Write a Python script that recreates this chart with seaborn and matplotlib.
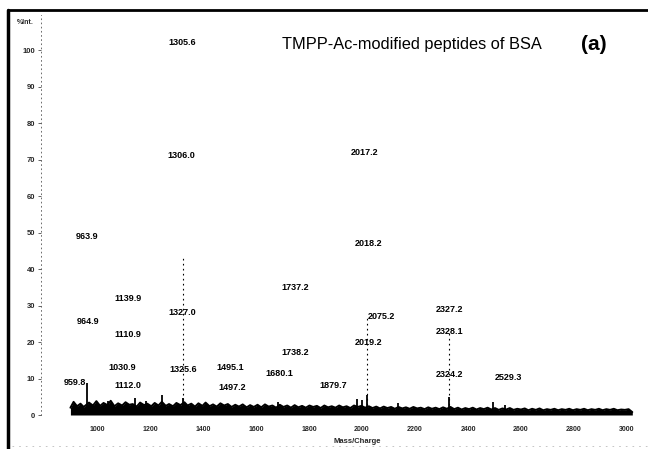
import matplotlib
matplotlib.use("Agg")
import matplotlib.pyplot as plt
import seaborn as sns
import pandas as pd
from matplotlib.lines import Line2D

# ---------------- data ----------------
noise_mz = [900, 912, 925, 938, 950, 970, 985, 998, 1012, 1025, 1040, 1052, 1066, 1080, 1095,
            1108, 1122, 1135, 1150, 1163, 1178, 1190, 1205, 1218, 1232, 1245, 1260, 1272, 1287,
            1300, 1315, 1330, 1342, 1356, 1370, 1383, 1398, 1410, 1425, 1438, 1452, 1466, 1480,
            1494, 1508, 1522, 1536, 1550, 1565, 1578, 1592, 1606, 1620, 1634, 1648, 1662, 1676,
            1690, 1704, 1718, 1732, 1746, 1760, 1774, 1788, 1802, 1816, 1830, 1844, 1858, 1872,
            1886, 1900, 1914, 1928, 1942, 1956, 1970, 1984, 1998, 2012, 2026, 2040, 2054, 2068,
            2082, 2096, 2110, 2124, 2138, 2152, 2166, 2180, 2194, 2208, 2222, 2236, 2250, 2264,
            2278, 2292, 2306, 2320, 2334, 2348, 2362, 2376, 2390, 2404, 2418, 2432, 2446, 2460,
            2474, 2488, 2502, 2516, 2530, 2544, 2558, 2572, 2586, 2600, 2614, 2628, 2642, 2656,
            2670, 2684, 2698, 2712, 2726, 2740, 2754, 2768, 2782, 2796, 2810, 2824, 2838, 2852,
            2866, 2880, 2894, 2908, 2922, 2936, 2950, 2964, 2978, 2992, 3006, 3020]
noise_int = [2.0, 3.6, 2.4, 3.1, 2.2, 3.4, 2.6, 3.8, 2.5, 3.3, 2.7, 3.9, 2.4, 3.2, 2.6,
             3.5, 2.8, 3.0, 2.3, 3.4, 2.7, 3.1, 2.4, 3.3, 2.6, 3.6, 2.5, 3.0, 2.4,
             3.3, 2.7, 3.5, 2.6, 3.1, 2.3, 3.2, 2.5, 3.4, 2.4, 2.9, 2.3, 3.2, 2.6,
             3.0, 2.2, 2.8, 2.3, 2.9, 2.1, 2.7, 2.2, 2.8, 2.1, 2.9, 2.3, 2.6, 2.0,
             2.8, 2.2, 2.6, 2.0, 2.7, 2.1, 2.5, 2.0, 2.6, 2.2, 2.5, 1.9, 2.6, 2.1,
             2.4, 2.0, 2.6, 2.1, 2.4, 1.9, 2.6, 2.2, 2.5, 2.0, 2.4, 1.9, 2.3, 1.8,
             2.3, 1.9, 2.2, 1.7, 2.2, 1.8, 2.1, 1.7, 2.2, 1.8, 2.0, 1.6, 2.1, 1.7,
             2.0, 1.6, 2.1, 1.7, 2.2, 1.6, 2.0, 1.5, 1.9, 1.6, 2.0, 1.5, 1.9, 1.6,
             2.0, 1.5, 1.9, 1.4, 1.8, 1.5, 1.9, 1.4, 1.7, 1.5, 1.8, 1.3, 1.7, 1.4,
             1.8, 1.3, 1.6, 1.4, 1.7, 1.3, 1.6, 1.4, 1.7, 1.3, 1.6, 1.4, 1.7, 1.3,
             1.6, 1.4, 1.7, 1.3, 1.6, 1.4, 1.7, 1.3, 1.5, 1.4, 1.6, 0.8]

peak_mz = [962, 1042, 1143, 1185, 1245, 1325, 1683, 1981, 2000, 2019, 2136, 2328, 2494, 2540]
peak_int = [8.8, 3.8, 4.7, 3.8, 5.5, 4.6, 3.6, 4.3, 4.0, 5.5, 3.3, 5.0, 3.5, 2.8]

faded_mz = [1325, 2019, 2328]
faded_int = [43, 27, 23]

label_text = ["1305.6", "1306.0", "2017.2", "963.9", "2018.2", "1737.2", "1139.9", "1327.0",
              "2075.2", "2327.2", "964.9", "2328.1", "1110.9", "2019.2", "1738.2", "1030.9",
              "1325.6", "1495.1", "1680.1", "2324.2", "2529.3", "959.8", "1112.0", "1879.7",
              "1497.2"]
label_mz = [1321, 1317, 2011, 962, 2023, 1747, 1117, 1321, 2075, 2332, 966, 2332, 1117, 2023,
            1747, 1094, 1325, 1502, 1690, 2332, 2551, 917, 1117, 1890, 1509]
label_int = [102, 71, 72, 49, 47, 35, 32, 28, 27, 29, 25.5, 23, 22, 20, 17, 13, 12.6, 13,
             11.5, 11, 10.4, 8.8, 8.0, 8.2, 7.4]

y_ticks = [0, 10, 20, 30, 40, 50, 60, 70, 80, 90, 100]
x_ticks = [1000, 1200, 1400, 1600, 1800, 2000, 2200, 2400, 2600, 2800, 3000]

title_text = "TMPP-Ac-modified peptides of BSA"
panel_text = "(a)"

# ---------------- plot ----------------
sns.set_theme(style="white")
plt.rcParams["font.family"] = ["Liberation Sans", "DejaVu Sans"]

W, H = 648, 449
fig = plt.figure(figsize=(W / 100, H / 100), dpi=100)
ax = fig.add_axes([41 / W, 34 / H, 599 / W, 400 / H])

noise = pd.DataFrame({"mz": noise_mz, "int": noise_int})
ax.fill_between(noise["mz"], 0, noise["int"], color="black", linewidth=0)
sns.lineplot(data=noise, x="mz", y="int", ax=ax, color="black", linewidth=1.4)

ax.vlines(peak_mz, 0, peak_int, color="black", linewidth=1.3)
ax.vlines(faded_mz, 0, faded_int, color="black", linewidth=0.8, linestyles=(0, (1.5, 3)))

for t, x, y in zip(label_text, label_mz, label_int):
    ax.text(x, y, t, ha="center", va="center", fontsize=6.5, color="black",
            fontweight="bold")

ax.set_xlim(789, 3049)
ax.set_ylim(0, 109.6)
ax.set_xticks(x_ticks)
ax.set_xticklabels([str(v) for v in x_ticks], fontsize=5, fontweight="bold")
ax.set_yticks(y_ticks)
ax.set_yticklabels([str(v) for v in y_ticks], fontsize=5.5, fontweight="bold")
ax.tick_params(axis="x", length=0, pad=8)
ax.tick_params(axis="y", length=2, width=0.5, pad=2, direction="out", left=True)
ax.set_xlabel("Mass/Charge", fontsize=5.5, fontweight="bold")
ax.xaxis.set_label_coords((357 - 41) / 599, -0.058)
ax.set_ylabel("")
ax.text(-0.012, (415 - 22) / 400, "%Int.", transform=ax.transAxes, ha="right", va="center",
        fontsize=5, fontweight="bold")

for s in ["top", "right", "bottom"]:
    ax.spines[s].set_visible(False)
ax.spines["left"].set_linestyle((0, (1, 4)))
ax.spines["left"].set_linewidth(0.6)
ax.spines["left"].set_color("#555555")

fig.text(412 / W, 1 - 45 / H, title_text, ha="center", va="center", fontsize=11.8,
         color="black")
fig.text(594 / W, 1 - 45 / H, panel_text, ha="center", va="center", fontsize=15,
         fontweight="bold", color="black")

# outer frame of the scanned panel
fig.add_artist(Line2D([8 / W, 8 / W], [0, 1 - 10 / H], transform=fig.transFigure,
                      color="black", linewidth=2.5))
fig.add_artist(Line2D([8 / W, 1], [1 - 10 / H, 1 - 10 / H], transform=fig.transFigure,
                      color="black", linewidth=2.0))
fig.add_artist(Line2D([12 / W, 1], [3 / H, 3 / H], transform=fig.transFigure,
                      color="#bbbbbb", linewidth=0.6, linestyle=(0, (2, 6))))

fig.savefig("out.png", dpi=100)
